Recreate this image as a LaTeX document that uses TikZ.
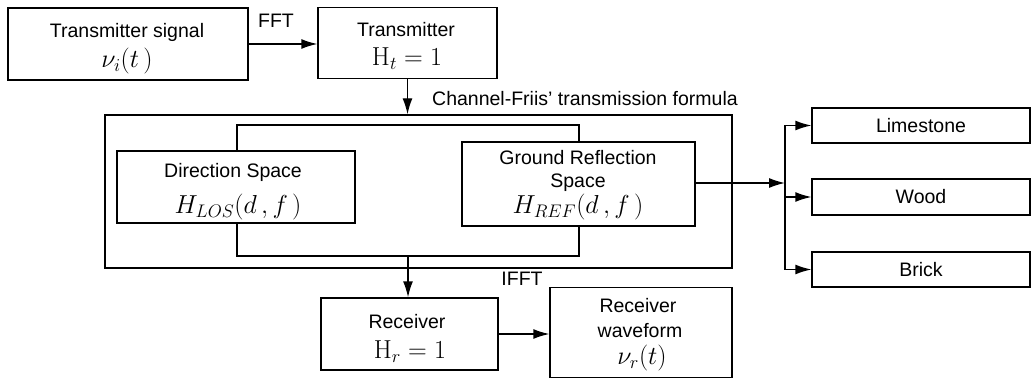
\documentclass[tikz,border=0pt]{standalone}
\usepackage{fix-cm}
\usepackage[no-math]{fontspec}
\setmainfont{Liberation Sans}
\usetikzlibrary{arrows.meta,calc}
\begin{document}
\begin{tikzpicture}[x=1pt,y=-1pt,
  box/.style={draw, line width=1.4pt, rectangle, inner sep=0pt, fill=white},
  frame/.style={draw, line width=1.4pt, rectangle, inner sep=0pt},
  conn/.style={line width=1.4pt},
  arr/.style={line width=1.4pt, -{Latex[length=16pt,width=10pt]}},
  txt/.style={font=\fontsize{19.5}{22}\selectfont, inner sep=0pt},
  mtxt/.style={font=\fontsize{26}{28}\selectfont, inner sep=0pt}]
\useasboundingbox (0,0) rectangle (1032,379);
% frames
\node[frame, minimum width=627pt, minimum height=153pt] (frame) at (418.5,191.5) {};
\node[frame, minimum width=342pt, minimum height=131pt] (loop) at (408,190.5) {};
% boxes
\node[box, minimum width=240pt, minimum height=72pt] (ts) at (128,44) {};
\node[box, minimum width=179pt, minimum height=71pt] (tx) at (407.5,43) {};
\node[box, minimum width=238pt, minimum height=72pt] (ds) at (236,187) {};
\node[box, minimum width=233pt, minimum height=84pt] (gr) at (578.5,184) {};
\node[box, minimum width=218pt, minimum height=35pt] (lime) at (921,125.5) {};
\node[box, minimum width=218pt, minimum height=36pt] (wood) at (921,197) {};
\node[box, minimum width=218pt, minimum height=35pt] (brick) at (921,269.5) {};
\node[box, minimum width=177pt, minimum height=72pt] (rx) at (409.5,334) {};
\node[box, minimum width=182pt, minimum height=90pt] (rw) at (641,332.5) {};
% texts
\node[txt] (tsA) at (127,32) {Transmitter signal};
\node[mtxt] (tsB) at (127,61) {$\nu_i(t\,)$};
\node[txt] (txA) at (406,30) {Transmitter};
\node[mtxt] (txB) at (407,59) {$\mathrm{H}_t = 1$};
\node[txt] (dsA) at (233,172) {Direction Space};
\node[mtxt] (dsB) at (238,207) {$H_{LOS}(d\,,f\,)$};
\node[txt] (grA) at (578,158) {Ground Reflection};
\node[txt] (grB) at (578,183) {Space};
\node[mtxt] (grC) at (578,207) {$H_{REF}(d\,,f\,)$};
\node[txt] (limeA) at (lime) {Limestone};
\node[txt] (woodA) at (wood) {Wood};
\node[txt] (brickA) at (brick) {Brick};
\node[txt] (rxA) at (407,322) {Receiver};
\node[mtxt] (rxB) at (410,352) {$\mathrm{H}_r = 1$};
\node[txt] (rwA) at (638,306) {Receiver};
\node[txt] (rwB) at (640,331) {waveform};
\node[mtxt] (rwC) at (642,358) {$\nu_r(t)$};
\node[txt, anchor=west] (chan) at (432,99) {Channel-Friis' transmission formula};
\node[txt] (fft) at (276,21) {FFT};
\node[txt] (ifft) at (522,279) {IFFT};
% connectors
\coordinate (split) at (785,183);
\draw[arr] (ts.east) -- (ts.east -| tx.west);
\draw[arr] (tx.south) -- (tx.south |- frame.north);
\draw[arr] (loop.south) -- (loop.south |- rx.north);
\draw[arr] (rx.east) -- (rx.east -| rw.west);
\draw[arr] (gr.east |- split) -- (split);
\draw[conn] (split |- lime.west) -- (split |- brick.west);
\draw[arr] (split |- lime.west) -- (lime.west);
\draw[arr] (split |- wood.west) -- (wood.west);
\draw[arr] (split |- brick.west) -- (brick.west);
\end{tikzpicture}
\end{document}
